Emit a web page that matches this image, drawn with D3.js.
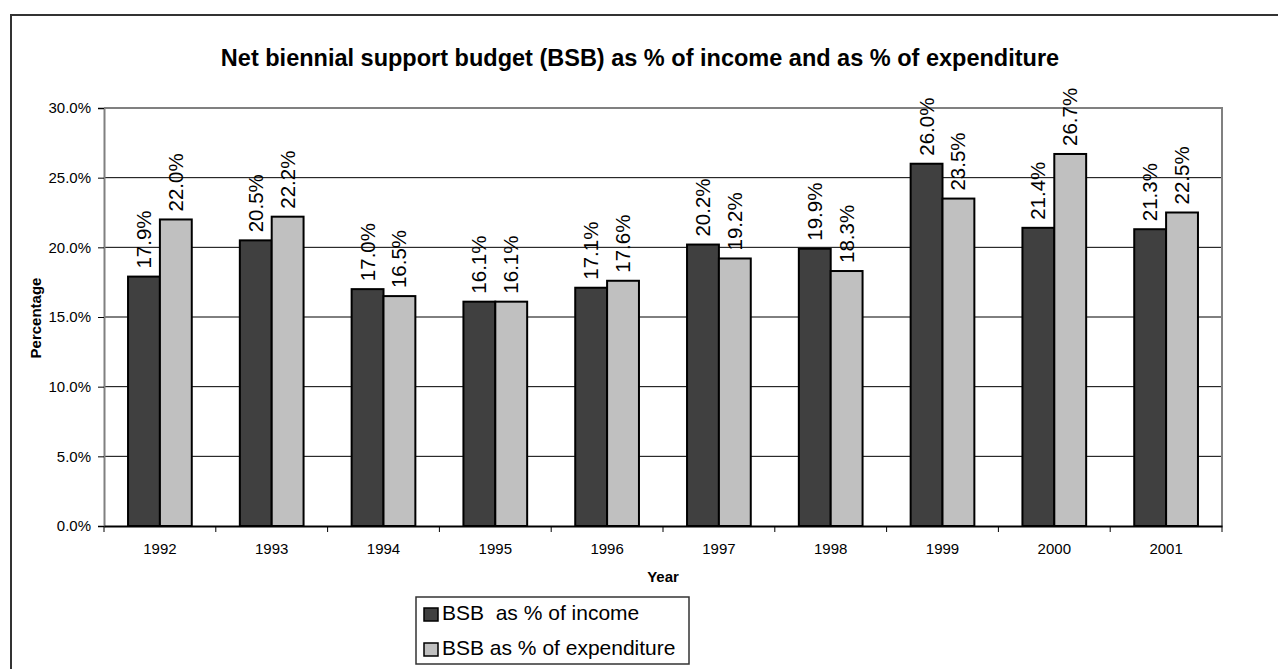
<!DOCTYPE html>
<html>
<head>
<meta charset="utf-8">
<script src="https://cdn.jsdelivr.net/npm/d3@7"></script>
<style>
  body { margin: 0; background: #fff; }
  svg { display: block; font-family: Arial, "Liberation Sans", sans-serif; }
</style>
</head>
<body>
<div id="chart"></div>
<script>
const years = ["1992", "1993", "1994", "1995", "1996", "1997", "1998", "1999", "2000", "2001"];
const income = [17.9, 20.5, 17.0, 16.1, 17.1, 20.2, 19.9, 26.0, 21.4, 21.3];
const expenditure = [22.0, 22.2, 16.5, 16.1, 17.6, 19.2, 18.3, 23.5, 26.7, 22.5];
const seriesNames = ["BSB  as % of income", "BSB as % of expenditure"];
const yTicks = [0, 5, 10, 15, 20, 25, 30];

const w = 1278;
const h = 669;
const colors = ["#404040", "#c0c0c0"];
const font = "Arial, 'Liberation Sans', sans-serif";

const svg = d3.select("#chart").append("svg")
  .attr("width", w)
  .attr("height", h);

// outer chart border
svg.append("rect")
  .attr("x", 11).attr("y", 15)
  .attr("width", w + 20).attr("height", h + 20)
  .attr("fill", "none")
  .attr("stroke", "#333")
  .attr("stroke-width", 2);

const plot = { left: 104, top: 108, right: 1222, bottom: 526 };

const x = d3.scaleBand()
  .domain(years)
  .range([plot.left, plot.right])
  .paddingInner(0.43)
  .paddingOuter(0.215);

const x1 = d3.scaleBand()
  .domain([0, 1])
  .range([0, x.bandwidth()]);

const y = d3.scaleLinear()
  .domain([0, 30])
  .range([plot.bottom, plot.top]);

// gridlines
svg.append("g")
  .selectAll("line")
  .data(yTicks.slice(1, -1))
  .join("line")
  .attr("x1", plot.left).attr("x2", plot.right)
  .attr("y1", d => y(d)).attr("y2", d => y(d))
  .attr("stroke", "#000")
  .attr("stroke-width", 1);

// plot area border (top/right grey)
svg.append("path")
  .attr("d", `M${plot.left},${y(30)}H${plot.right}V${plot.bottom}`)
  .attr("fill", "none")
  .attr("stroke", "#808080")
  .attr("stroke-width", 2);

const rows = years.map((yr, i) => ({ year: yr, vals: [income[i], expenditure[i]] }));

const groups = svg.append("g")
  .selectAll("g")
  .data(rows)
  .join("g")
  .attr("transform", d => `translate(${x(d.year)},0)`);

groups.selectAll("rect")
  .data(d => d.vals.map((v, k) => ({ v, k })))
  .join("rect")
  .attr("x", d => x1(d.k))
  .attr("y", d => y(d.v))
  .attr("width", x1.bandwidth())
  .attr("height", d => y(0) - y(d.v))
  .attr("fill", d => colors[d.k])
  .attr("stroke", "#000")
  .attr("stroke-width", 2);

groups.selectAll("text")
  .data(d => d.vals.map((v, k) => ({ v, k })))
  .join("text")
  .attr("transform", d => `translate(${x1(d.k) + x1.bandwidth() / 2 + 7},${y(d.v) - 8}) rotate(-90)`)
  .attr("font-size", 20.5)
  .attr("fill", "#000")
  .text(d => d.v.toFixed(1) + "%");

// y axis
const gy = svg.append("g")
  .attr("transform", `translate(${plot.left},0)`)
  .call(d3.axisLeft(y).tickValues(yTicks).tickSize(6).tickPadding(7)
    .tickFormat(d => d.toFixed(1) + "%"));
gy.select(".domain").attr("stroke", "#808080").attr("stroke-width", 2);
gy.selectAll(".tick line").attr("stroke", "#000");
gy.selectAll("text").attr("font-size", 15).attr("font-family", font).attr("fill", "#000");

// x axis
const gx = svg.append("g")
  .attr("transform", `translate(0,${plot.bottom})`)
  .call(d3.axisBottom(x).tickSize(0).tickPadding(17));
gx.select(".domain").attr("stroke", "#000").attr("stroke-width", 2);
gx.selectAll("text").attr("font-size", 15).attr("font-family", font).attr("fill", "#000");

// category boundary ticks
const step = x.step();
svg.append("g")
  .selectAll("line")
  .data(d3.range(years.length + 1))
  .join("line")
  .attr("x1", i => plot.left + i * step).attr("x2", i => plot.left + i * step)
  .attr("y1", plot.bottom).attr("y2", plot.bottom + 6)
  .attr("stroke", "#000")
  .attr("stroke-width", 1);

// title
svg.append("text")
  .attr("x", 640)
  .attr("y", 66)
  .attr("text-anchor", "middle")
  .attr("font-size", 23.5)
  .attr("font-weight", "bold")
  .text("Net biennial support budget (BSB) as % of income and as % of expenditure");

// axis titles
svg.append("text")
  .attr("transform", `translate(41,318) rotate(-90)`)
  .attr("text-anchor", "middle")
  .attr("font-size", 15)
  .attr("font-weight", "bold")
  .text("Percentage");

svg.append("text")
  .attr("x", (plot.left + plot.right) / 2)
  .attr("y", 582)
  .attr("text-anchor", "middle")
  .attr("font-size", 15)
  .attr("font-weight", "bold")
  .text("Year");

// legend
const legend = svg.append("g").attr("transform", "translate(416,597)");
legend.append("rect")
  .attr("width", 273).attr("height", 67)
  .attr("fill", "#fff")
  .attr("stroke", "#333")
  .attr("stroke-width", 1.5);

const items = legend.selectAll("g")
  .data(seriesNames)
  .join("g")
  .attr("transform", (d, i) => `translate(7,${23 + i * 35})`);

items.append("rect")
  .attr("x", 1).attr("y", -12)
  .attr("width", 14).attr("height", 13)
  .attr("fill", (d, i) => colors[i])
  .attr("stroke", "#000")
  .attr("stroke-width", 1.5);

items.append("text")
  .attr("x", 19).attr("y", 0)
  .attr("font-size", 21)
  .style("white-space", "pre")
  .text(d => d);
</script>
</body>
</html>
